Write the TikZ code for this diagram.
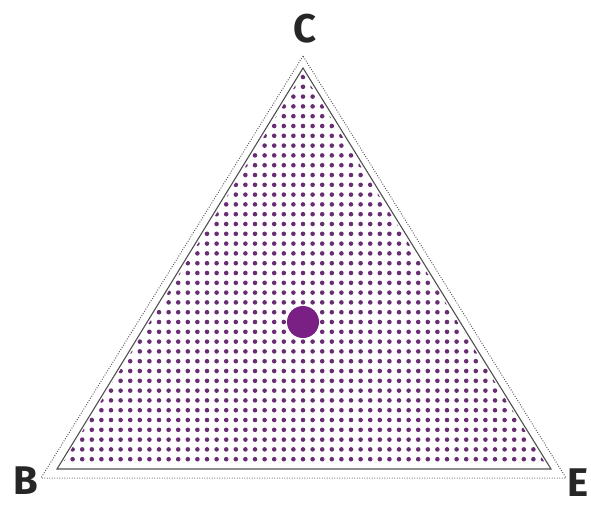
\documentclass[tikz,border=0pt]{standalone}
\usepackage{fontspec}
\setmainfont{Fira Sans}
\definecolor{triviolet}{RGB}{122, 32, 132}
\definecolor{trigrain}{RGB}{105, 45, 115}
\definecolor{trigris}{RGB}{80, 80, 80}

\begin{document}
\begin{tikzpicture}[x=1pt, y=-1pt,
    sommet/.style={font=\fontsize{40}{40}\selectfont\bfseries, text=black!85, inner sep=0pt},
    bord/.style={draw=trigris, line width=1.1pt, line join=miter},
    pointille/.style={draw=black!65, line width=1pt, dash pattern=on 0.9pt off 1.6pt},
    grain/.style={fill=trigrain}
  ]
  \useasboundingbox (0,0) rectangle (591,508);

  % Coins du triangle
  \coordinate (cext) at (303,56);
  \coordinate (bext) at (41,478);
  \coordinate (eext) at (566,478);
  \coordinate (cint) at (303,68);
  \coordinate (bint) at (57,469);
  \coordinate (eint) at (551,469);

  % Trame de points
  \begin{scope}
    \clip (303,73) -- (61,466) -- (547,466) -- cycle;
    \foreach \j in {-25,...,14}
      \foreach \i in {-26,...,26}
        \fill[grain] ({303+\i*9.6},{322+\j*9.8}) circle (2.3);
  \end{scope}

  % Bords
  \draw[bord] (cint) -- (bint) -- (eint) -- cycle;
  \draw[pointille] (cext) -- (bext) -- (eext) -- cycle;

  % Point central
  \node[circle, fill=triviolet, minimum size=32pt, inner sep=0pt] (centre) at (303,322) {};

  % Etiquettes
  \node[sommet] (c) at (305,29) {C};
  \node[sommet] (b) at (26,481) {B};
  \node[sommet, anchor=east] (e) at (589,483) {E};
\end{tikzpicture}
\end{document}
